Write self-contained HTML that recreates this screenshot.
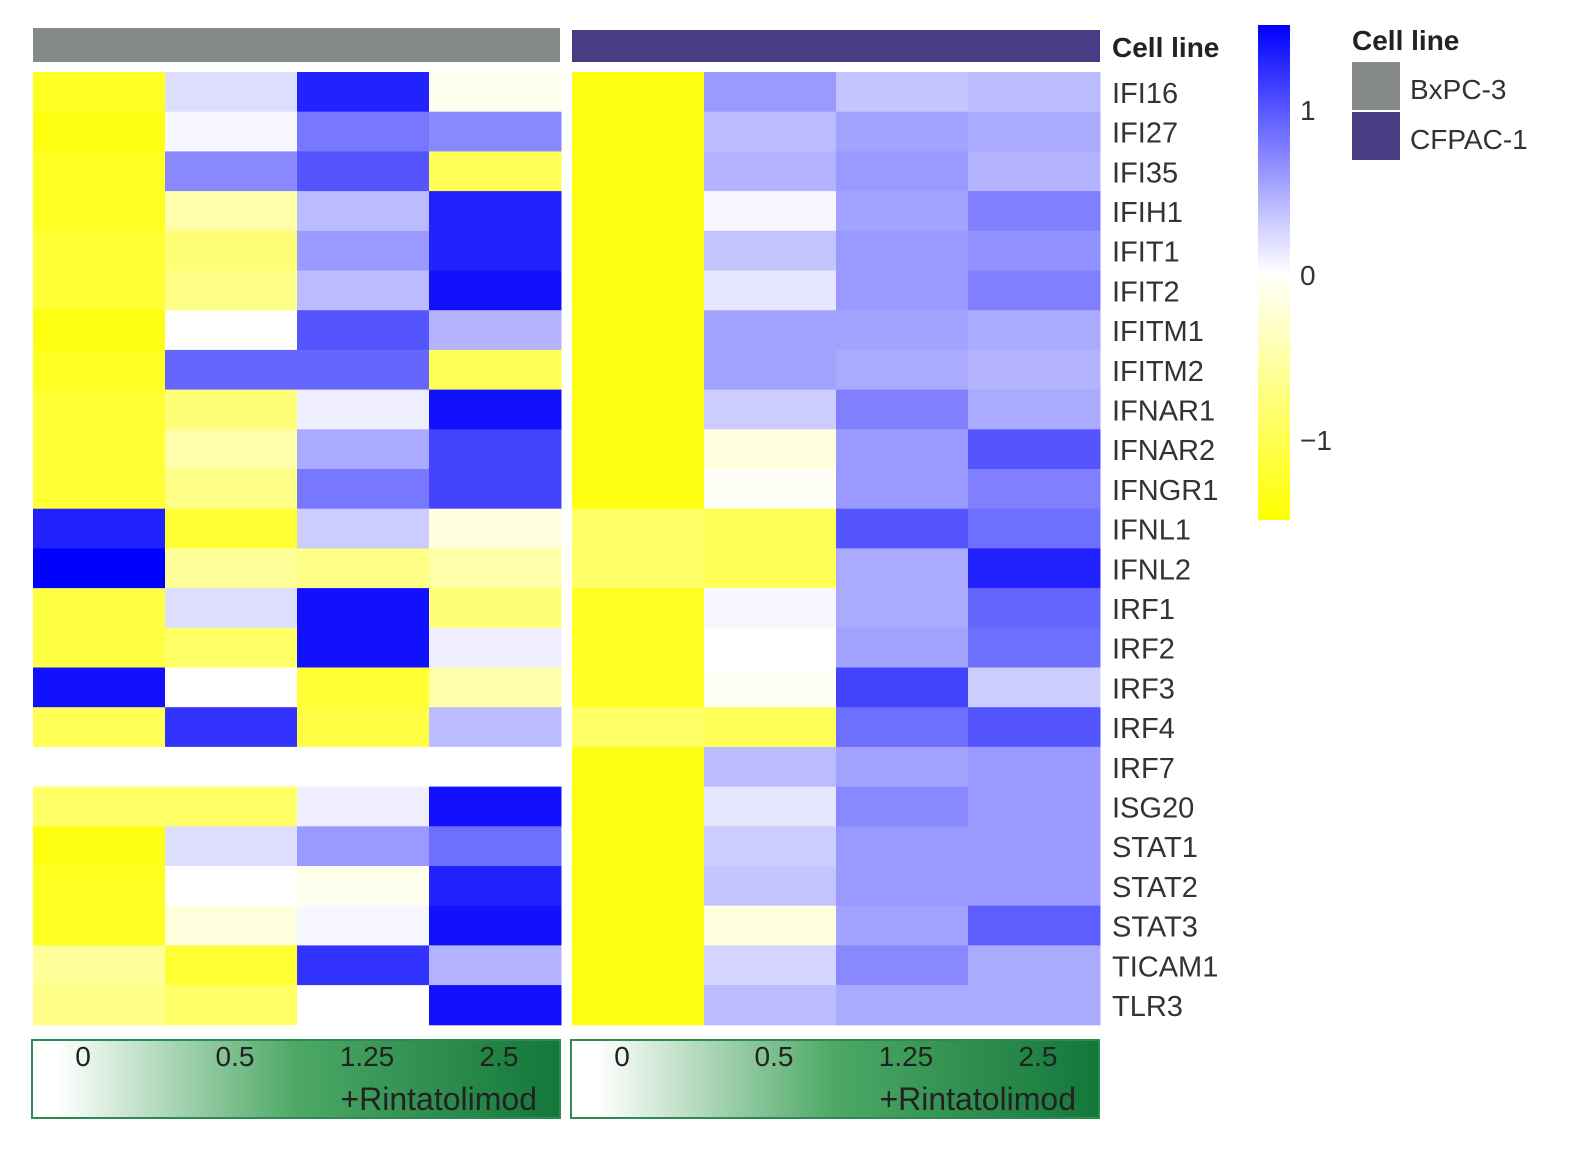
<!DOCTYPE html>
<html><head><meta charset="utf-8"><style>
html,body{margin:0;padding:0;background:#fff;}
svg{display:block;font-family:"Liberation Sans",sans-serif;}
</style></head><body>
<svg id="chart" width="1585" height="1160" viewBox="0 0 1585 1160">
<defs>
<linearGradient id="cb" x1="0" y1="1" x2="0" y2="0">
<stop offset="0" stop-color="#ffff00"/><stop offset="0.5" stop-color="#ffffff"/><stop offset="1" stop-color="#0000ff"/>
</linearGradient>
<linearGradient id="gr" x1="0" y1="0" x2="1" y2="0">
<stop offset="0.05" stop-color="#ffffff"/><stop offset="0.5" stop-color="#4da865"/><stop offset="1" stop-color="#13773a"/>
</linearGradient>
</defs>
<rect x="33" y="28" width="527" height="34" fill="#858a88"/>
<rect x="572" y="30" width="528" height="32" fill="#463d85"/>
<text x="1112" y="57" font-size="28" font-weight="bold" fill="#222">Cell line</text>
<g id="cells"></g>
<g id="labels"></g>
<rect x="1258" y="25" width="32" height="495" fill="url(#cb)"/>
<text x="1300" y="120" font-size="28" fill="#333">1</text>
<text x="1300" y="285" font-size="28" fill="#333">0</text>
<text x="1300" y="450" font-size="28" fill="#333">−1</text>
<text x="1352" y="50" font-size="28" font-weight="bold" fill="#222">Cell line</text>
<rect x="1352" y="62" width="48" height="48" fill="#858a88"/>
<rect x="1352" y="112" width="48" height="48" fill="#463d85"/>
<text x="1410" y="99" font-size="28" fill="#333">BxPC-3</text>
<text x="1410" y="149" font-size="28" fill="#333">CFPAC-1</text>
<g id="dose"></g>
</svg>
<script>
const genes=["IFI16","IFI27","IFI35","IFIH1","IFIT1","IFIT2","IFITM1","IFITM2","IFNAR1","IFNAR2","IFNGR1","IFNL1","IFNL2","IRF1","IRF2","IRF3","IRF4","IRF7","ISG20","STAT1","STAT2","STAT3","TICAM1","TLR3"];
const doses=["0","0.5","1.25","2.5"];
const bxpc3=[[-1.3,0.2,1.3,-0.1],[-1.4,0.05,0.8,0.7],[-1.3,0.7,1.0,-1.0],[-1.3,-0.5,0.4,1.3],[-1.2,-0.8,0.6,1.3],[-1.2,-0.7,0.4,1.4],[-1.4,0.0,1.0,0.45],[-1.3,0.9,0.9,-1.0],[-1.2,-0.8,0.1,1.4],[-1.2,-0.5,0.5,1.1],[-1.2,-0.7,0.8,1.1],[1.3,-1.2,0.3,-0.2],[1.5,-0.6,-0.7,-0.5],[-1.1,0.2,1.4,-0.8],[-1.1,-0.9,1.4,0.1],[1.4,0.0,-1.2,-0.5],[-1.0,1.2,-1.1,0.4],[0,0,0,0],[-0.9,-0.9,0.1,1.4],[-1.4,0.2,0.6,0.85],[-1.3,0.0,-0.1,1.3],[-1.3,-0.2,0.05,1.4],[-0.6,-1.2,1.2,0.45],[-0.7,-0.9,0.0,1.4]];
const cfpac1=[[-1.4,0.6,0.35,0.4],[-1.4,0.4,0.55,0.5],[-1.4,0.45,0.6,0.45],[-1.4,0.05,0.55,0.75],[-1.4,0.35,0.6,0.65],[-1.4,0.15,0.6,0.75],[-1.4,0.55,0.55,0.5],[-1.4,0.55,0.5,0.45],[-1.4,0.3,0.75,0.5],[-1.4,-0.2,0.6,1.0],[-1.4,-0.05,0.6,0.75],[-0.9,-1.0,1.0,0.85],[-0.9,-1.0,0.5,1.3],[-1.3,0.05,0.5,0.9],[-1.3,0.0,0.55,0.85],[-1.3,-0.05,1.1,0.3],[-0.9,-1.0,0.85,1.0],[-1.4,0.4,0.55,0.6],[-1.4,0.15,0.7,0.6],[-1.4,0.3,0.6,0.6],[-1.4,0.35,0.6,0.6],[-1.4,-0.2,0.55,0.95],[-1.4,0.25,0.7,0.5],[-1.4,0.4,0.5,0.5]];
const NS="http://www.w3.org/2000/svg";
const top0=72,rowH=39.7,colW=132;
const blocks=[{x:33,data:bxpc3,name:"bxpc3"},{x:572,data:cfpac1,name:"cfpac1"}];
function color(v){v=Math.max(-1.5,Math.min(1.5,v))/1.5;
 if(v>=0){const c=Math.round(255*(1-v));return `rgb(${c},${c},255)`;}
 const c=Math.round(255*(1+v));return `rgb(255,255,${c})`;}
const cells=document.getElementById('cells');
blocks.forEach(b=>{b.data.forEach((row,i)=>{row.forEach((v,j)=>{
 const r=document.createElementNS(NS,'rect');
 r.setAttribute('x',b.x+j*colW);r.setAttribute('y',top0+i*rowH);
 r.setAttribute('width',colW+0.5);r.setAttribute('height',rowH+0.5);
 r.setAttribute('fill',color(v));
 
 
 cells.appendChild(r);});});});
const lab=document.getElementById('labels');
genes.forEach((g,i)=>{const t=document.createElementNS(NS,'text');
 t.setAttribute('x',1112);t.setAttribute('y',top0+i*rowH+rowH/2+11);
 t.setAttribute('font-size','29');t.setAttribute('fill','#333');t.textContent=g;
 
 
 lab.appendChild(t);});
const dose=document.getElementById('dose');
blocks.forEach(b=>{
 const r=document.createElementNS(NS,'rect');
 r.setAttribute('x',b.x-1);r.setAttribute('y',1040);r.setAttribute('width',528);r.setAttribute('height',78);
 r.setAttribute('fill','url(#gr)');r.setAttribute('stroke','#2e8a55');r.setAttribute('stroke-width','2');
 
 
 dose.appendChild(r);
 doses.forEach((d,j)=>{const t=document.createElementNS(NS,'text');
  t.setAttribute('x',b.x+j*colW+(j==0?50:70));t.setAttribute('y',1066);t.setAttribute('text-anchor',j==0?'middle':'middle');
  t.setAttribute('font-size','28');t.setAttribute('fill','#222');t.textContent=d;
  
  
  dose.appendChild(t);});
 const t=document.createElementNS(NS,'text');
 t.setAttribute('x',b.x+504);t.setAttribute('y',1110);t.setAttribute('text-anchor','end');
 t.setAttribute('font-size','32');t.setAttribute('fill','#222');t.textContent='+Rintatolimod';
 
 
 dose.appendChild(t);});
</script>
</body></html>
